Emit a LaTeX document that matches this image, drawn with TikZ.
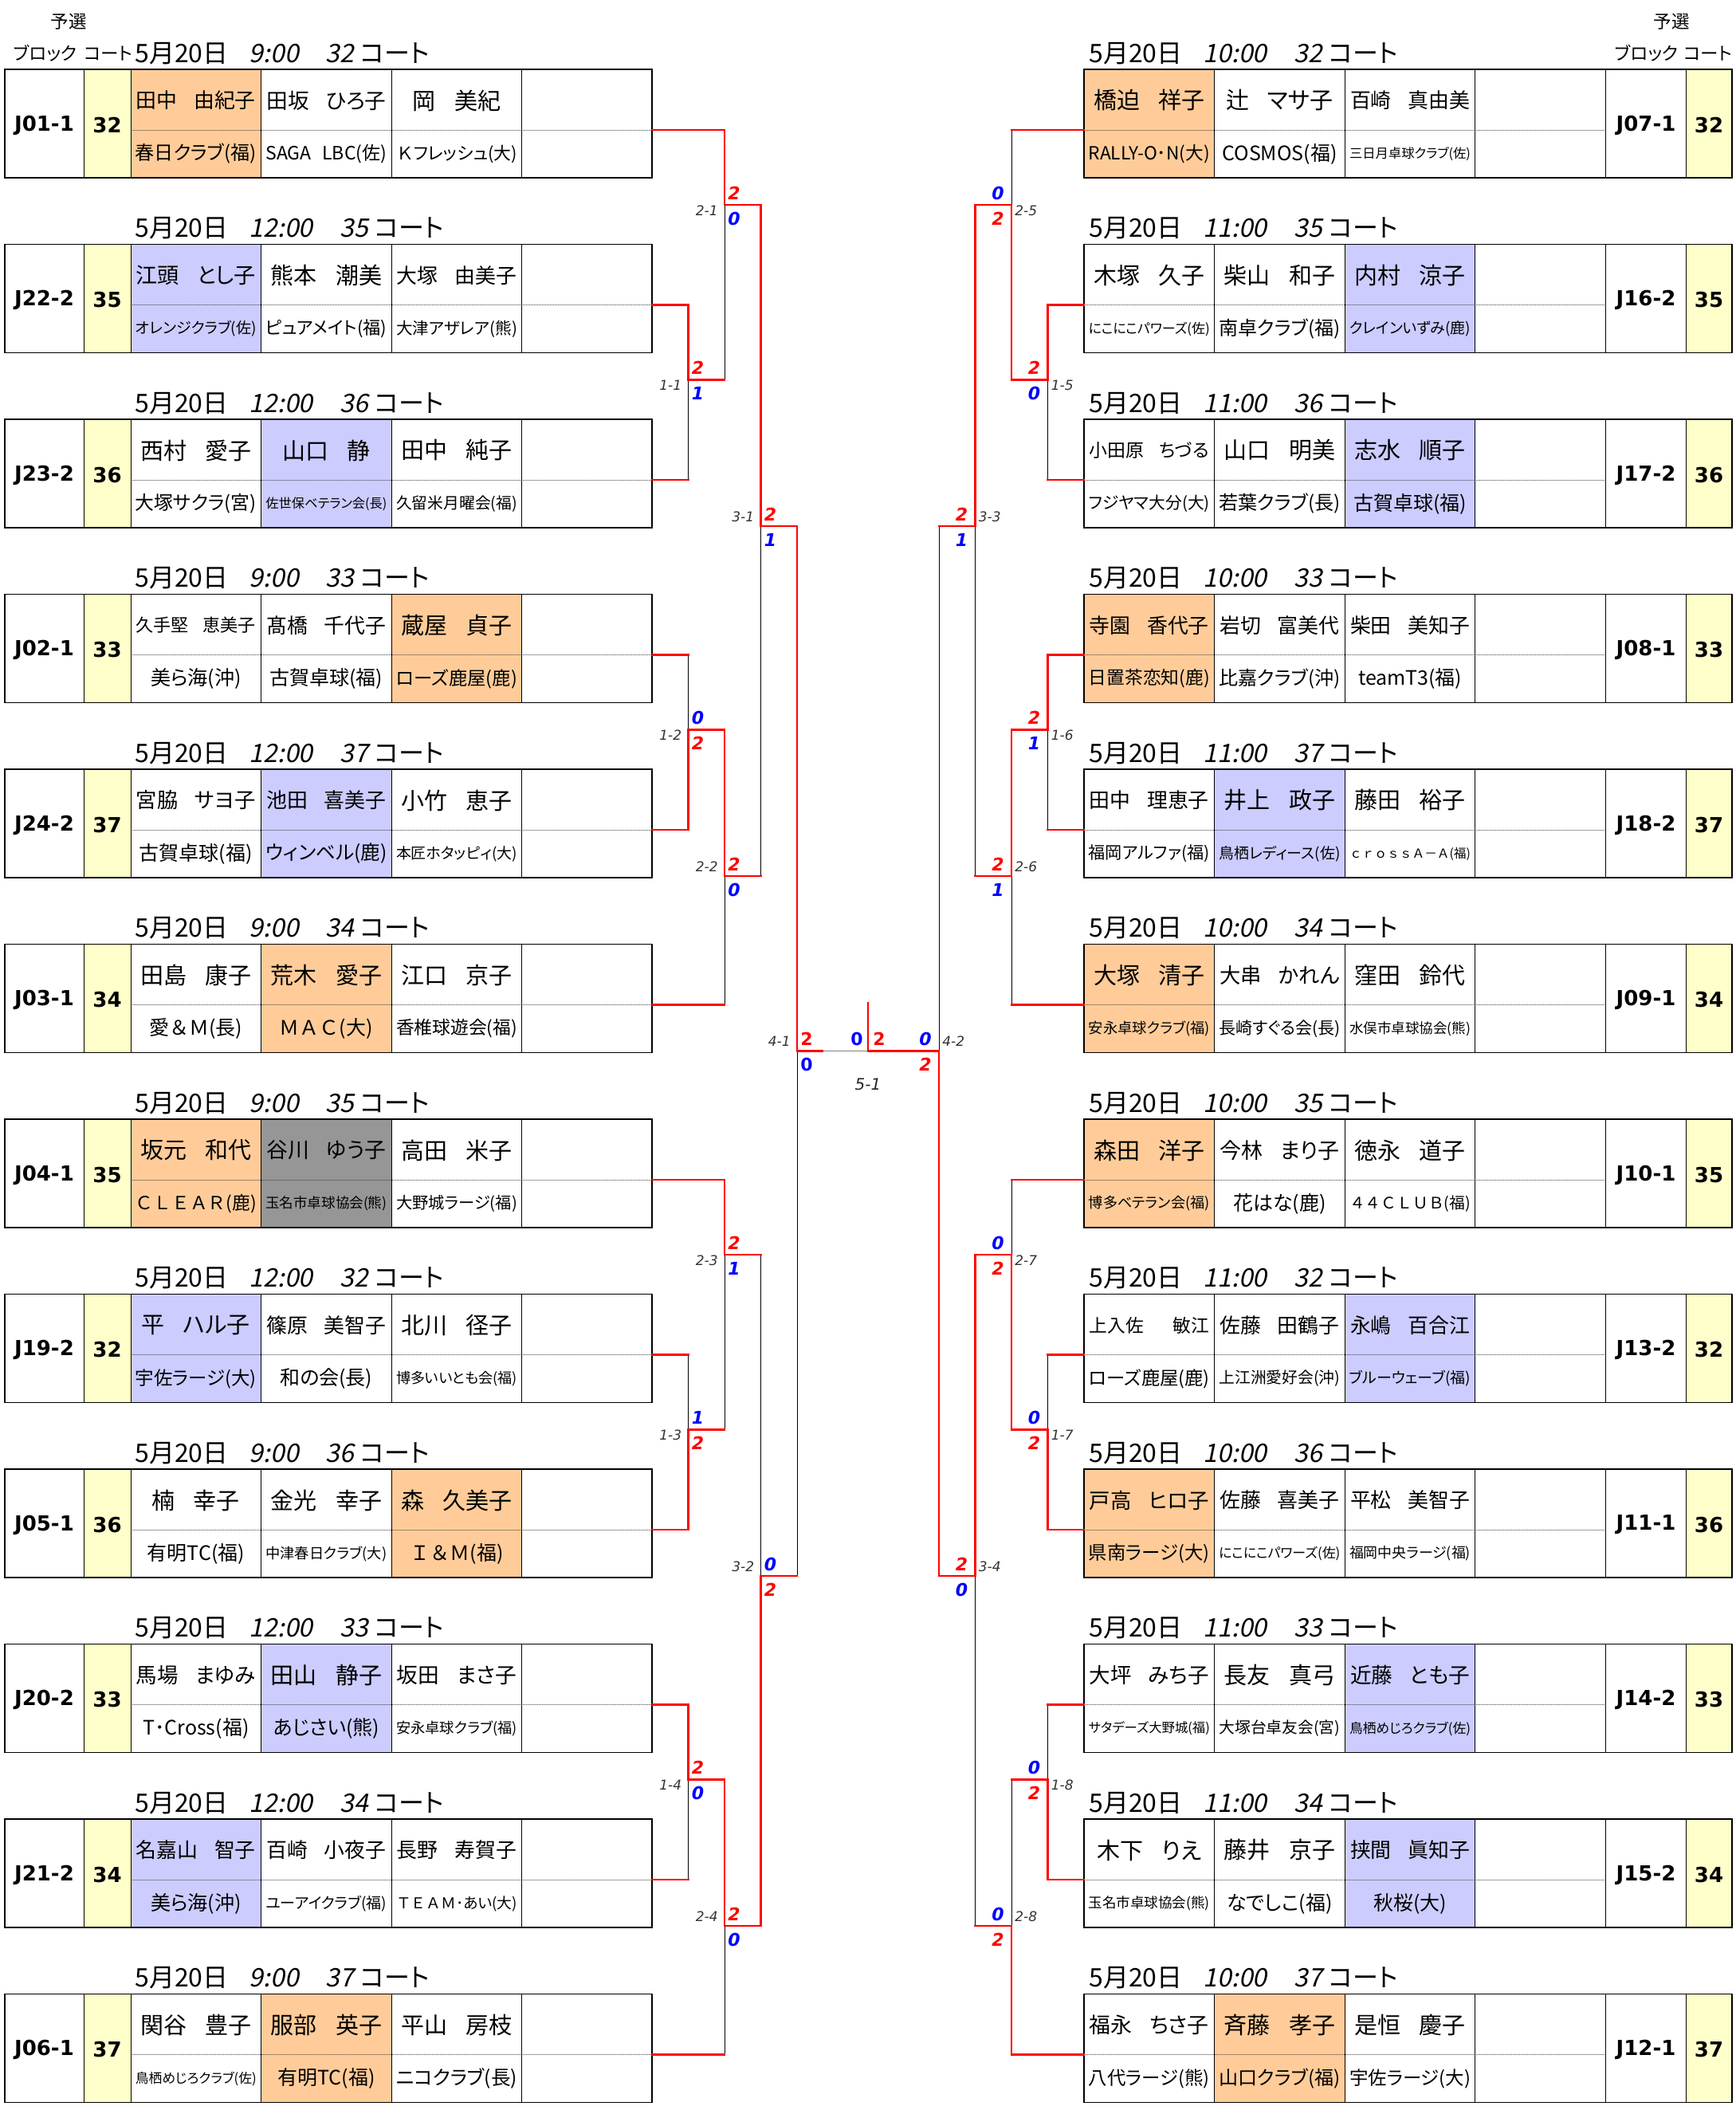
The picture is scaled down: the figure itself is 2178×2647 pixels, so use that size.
\documentclass[tikz,border=0pt]{standalone}
\usepackage{fontspec}
\usepackage{graphicx}
\setmainfont{Noto Sans CJK JP}[RawFeature=+palt]
\newfontfamily\jpw{Noto Sans CJK JP}
\newfontfamily\jpit{Noto Sans CJK JP}[FakeSlant=0.2,RawFeature=+palt]
\newfontfamily\dv{DejaVu Sans}[BoldFont={DejaVu Sans Bold},ItalicFont={DejaVu Sans Oblique},BoldItalicFont={DejaVu Sans Bold Oblique}]
\definecolor{orng}{HTML}{FFCC99}
\definecolor{lav}{HTML}{CCCCFF}
\definecolor{gry}{HTML}{969696}
\definecolor{yel}{HTML}{FFFFCC}
\newsavebox\fitbox
\newcommand\fitw[2]{\sbox\fitbox{#2}\ifdim\wd\fitbox>#1\relax\resizebox{#1}{!}{\usebox\fitbox}\else\usebox\fitbox\fi}
\newcommand\fitn[1]{\fitw{75pt}{#1}}
\newcommand\fitc[1]{\fitw{76pt}{#1}}
\newcommand\zs{\hspace{0.8em}}
\newcommand\scr[1]{\textcolor{red}{#1}}
\newcommand\scb[1]{\textcolor{blue}{#1}}
\newcommand\sideL{\def\pSD{L}\def\pBL{6}\def\pBR{818}\def\pNS{164}\def\pBS{6}\def\pCS{105}\def\pCE{164}\def\pTX{169}\def\pCX{818}}
\newcommand\sideR{\def\pSD{R}\def\pBL{1360}\def\pBR{2173}\def\pNS{1360}\def\pBS{2015}\def\pCS{2115}\def\pCE{2173}\def\pTX{1366}\def\pCX{1360}}
\def\pW{163.6}
\tikzset{
  nm/.style={inner sep=0pt,font=\fontsize{14.5}{17}\selectfont},
  cl/.style={inner sep=0pt,font=\fontsize{12.5}{15}\selectfont},
  blk/.style={inner sep=0pt,font=\dv\bfseries\fontsize{13}{15}\selectfont},
  ttl/.style={inner sep=0pt,font=\fontsize{16}{19}\selectfont},
  hdr/.style={inner sep=0pt,font=\fontsize{11.25}{13}\selectfont},
  sc/.style={inner sep=0pt,font=\dv\bfseries\itshape\fontsize{11}{13}\selectfont},
  scu/.style={inner sep=0pt,font=\dv\bfseries\fontsize{11}{13}\selectfont},
  lb/.style={inner sep=0pt,font=\dv\itshape\fontsize{8.5}{10}\selectfont,text=black!80},
  lbf/.style={inner sep=0pt,font=\dv\itshape\fontsize{10}{12}\selectfont,text=black!85},
  win/.style={draw=red,line width=1.35pt,line cap=rect,line join=miter},
  ln/.style={draw=black,line width=0.5pt},
  gln/.style={draw=gray,line width=0.65pt},
  frame/.style={draw=black,line width=0.7pt},
  cell/.style={draw=black,line width=0.5pt},
  dotln/.style={draw=black!75,line width=0.5pt,dash pattern=on 0.5pt off 0.5pt}
}
\newcommand\myBox[7]{%
  \pgfmathsetmacro\yT{87+219.5*#1}%
  \pgfmathsetmacro\yB{\yT+136}%
  \pgfmathsetmacro\yD{\yT+76}%
  \fill[yel] (\pCS,\yT) rectangle (\pCE,\yB);
  \fill[#5] (\pNS,\yT) rectangle ({\pNS+\pW},\yB);
  \fill[#6] ({\pNS+\pW},\yT) rectangle ({\pNS+2*\pW},\yB);
  \fill[#7] ({\pNS+2*\pW},\yT) rectangle ({\pNS+3*\pW},\yB);
  \draw[dotln] (\pNS,\yD) -- ({\pNS+4*\pW},\yD);
  \foreach \k in {1,2,3,4} {\draw[cell] ({\pNS+\k*\pW},\yT) -- ({\pNS+\k*\pW},\yB);}
  \draw[cell] (\pCS,\yT) -- (\pCS,\yB) (\pCE,\yT) -- (\pCE,\yB) (\pNS,\yT) -- (\pNS,\yB);
  \draw[frame] (\pBL,\yT) rectangle (\pBR,\yB);
  \node[blk] (blk\pSD#1) at ({(\pBS+\pCS)/2},{\yT+70}) {#2};
  \node[blk] (crt\pSD#1) at ({(\pCS+\pCE)/2},{\yT+70}) {#3};
  \node[ttl,anchor=base west] (ttl\pSD#1) at (\pTX,{\yT-9}) {5月20日\hspace{13pt}{\jpit #4}\hspace{17pt}{\jpit #3}\hspace{4pt}コート};
  \coordinate (b\pSD#1) at (\pCX,\yD);
}
\newcommand\myTxt[7]{%
  \pgfmathsetmacro\yT{87+219.5*#1}%
  \node[nm] (nm\pSD#1a) at ({\pNS+0.5*\pW},{\yT+39}) {\fitn{#2}};
  \node[nm] (nm\pSD#1b) at ({\pNS+1.5*\pW},{\yT+39}) {\fitn{#3}};
  \node[nm] (nm\pSD#1c) at ({\pNS+2.5*\pW},{\yT+39}) {\fitn{#4}};
  \node[cl] (cl\pSD#1a) at ({\pNS+0.5*\pW},{\yT+106}) {\fitc{#5}};
  \node[cl] (cl\pSD#1b) at ({\pNS+1.5*\pW},{\yT+106}) {\fitc{#6}};
  \node[cl] (cl\pSD#1c) at ({\pNS+2.5*\pW},{\yT+106}) {\fitc{#7}};
}
\newcommand\myMatch[4]{%
  \draw[ln] (#2 -| #1) -- (#3 -| #1);
  \draw[win] (#2) -- (#2 -| #1);
  \draw[win] (#3) -- (#3 -| #1);
  \if#4t\draw[win] (#2 -| #1) -- (#1);\else\draw[win] (#3 -| #1) -- (#1);\fi
}
\newcommand\scL[6]{%
  \node[#6,anchor=west] (#1u) at ([xshift=2pt,yshift=7.5pt]#1) {#4};
  \node[#6,anchor=west] (#1d) at ([xshift=2pt,yshift=-8.5pt]#1) {#5};
  \node[lb,anchor=east] (#1l) at ([xshift=-4pt,yshift=#3]#1) {#2};
}
\newcommand\scR[6]{%
  \node[#6,anchor=east] (#1u) at ([xshift=-4.5pt,yshift=7.5pt]#1) {#4};
  \node[#6,anchor=east] (#1d) at ([xshift=-4.5pt,yshift=-8.5pt]#1) {#5};
  \node[lb,anchor=west] (#1l) at ([xshift=2pt,yshift=#3]#1) {#2};
}
\begin{document}
\begin{tikzpicture}[x=0.5pt,y=-0.5pt]
\fill[white] (0,0) rectangle (2178,2647);
\useasboundingbox (0,0) rectangle (2178,2647);
% headers
\node[hdr] (hyL) at (86,27) {予選};
\node[hdr] (hbL) at (57,67) {ブロック};
\node[hdr] (hcL) at (136,67) {コート};
\node[hdr] (hyR) at (2097,27) {予選};
\node[hdr] (hbR) at (2066,67) {ブロック};
\node[hdr] (hcR) at (2143,67) {コート};
% left boxes
\sideL
\myBox{0}{J01-1}{32}{9:00}{orng}{white}{white}
\myBox{1}{J22-2}{35}{12:00}{lav}{white}{white}
\myBox{2}{J23-2}{36}{12:00}{white}{lav}{white}
\myBox{3}{J02-1}{33}{9:00}{white}{white}{orng}
\myBox{4}{J24-2}{37}{12:00}{white}{lav}{white}
\myBox{5}{J03-1}{34}{9:00}{white}{orng}{white}
\myBox{6}{J04-1}{35}{9:00}{orng}{gry}{white}
\myBox{7}{J19-2}{32}{12:00}{lav}{white}{white}
\myBox{8}{J05-1}{36}{9:00}{white}{white}{orng}
\myBox{9}{J20-2}{33}{12:00}{white}{lav}{white}
\myBox{10}{J21-2}{34}{12:00}{lav}{white}{white}
\myBox{11}{J06-1}{37}{9:00}{white}{orng}{white}
\myTxt{0}{田中\zs 由紀子}{田坂\zs ひろ子}{岡\zs 美紀}{春日クラブ(福)}{SAGA\hspace{0.6em}LBC(佐)}{{\jpw Ｋ}フレッシュ(大)}
\myTxt{1}{江頭\zs とし子}{熊本\zs 潮美}{大塚\zs 由美子}{オレンジクラブ(佐)}{ピュアメイト(福)}{大津アザレア(熊)}
\myTxt{2}{西村\zs 愛子}{山口\zs 静}{田中\zs 純子}{大塚サクラ(宮)}{佐世保ベテラン会(長)}{久留米月曜会(福)}
\myTxt{3}{久手堅\zs 恵美子}{髙橋\zs 千代子}{蔵屋\zs 貞子}{美ら海(沖)}{古賀卓球(福)}{ローズ鹿屋(鹿)}
\myTxt{4}{宮脇\zs サヨ子}{池田\zs 喜美子}{小竹\zs 恵子}{古賀卓球(福)}{ウィンベル(鹿)}{本匠ホタッピィ(大)}
\myTxt{5}{田島\zs 康子}{荒木\zs 愛子}{江口\zs 京子}{愛{\jpw ＆Ｍ}(長)}{{\jpw ＭＡＣ}(大)}{香椎球遊会(福)}
\myTxt{6}{坂元\zs 和代}{谷川\zs ゆう子}{高田\zs 米子}{{\jpw ＣＬＥＡＲ}(鹿)}{玉名市卓球協会(熊)}{大野城ラージ(福)}
\myTxt{7}{平\zs ハル子}{篠原\zs 美智子}{北川\zs 径子}{宇佐ラージ(大)}{和の会(長)}{博多いいとも会(福)}
\myTxt{8}{楠\zs 幸子}{金光\zs 幸子}{森\zs 久美子}{有明TC(福)}{中津春日クラブ(大)}{{\jpw Ｉ＆Ｍ}(福)}
\myTxt{9}{馬場\zs まゆみ}{田山\zs 静子}{坂田\zs まさ子}{T･Cross(福)}{あじさい(熊)}{安永卓球クラブ(福)}
\myTxt{10}{名嘉山\zs 智子}{百崎\zs 小夜子}{長野\zs 寿賀子}{美ら海(沖)}{ユーアイクラブ(福)}{{\jpw ＴＥＡＭ}･あい(大)}
\myTxt{11}{関谷\zs 豊子}{服部\zs 英子}{平山\zs 房枝}{鳥栖めじろクラブ(佐)}{有明TC(福)}{ニコクラブ(長)}
% right boxes
\sideR
\myBox{0}{J07-1}{32}{10:00}{orng}{white}{white}
\myBox{1}{J16-2}{35}{11:00}{white}{white}{lav}
\myBox{2}{J17-2}{36}{11:00}{white}{white}{lav}
\myBox{3}{J08-1}{33}{10:00}{orng}{white}{white}
\myBox{4}{J18-2}{37}{11:00}{white}{lav}{white}
\myBox{5}{J09-1}{34}{10:00}{orng}{white}{white}
\myBox{6}{J10-1}{35}{10:00}{orng}{white}{white}
\myBox{7}{J13-2}{32}{11:00}{white}{white}{lav}
\myBox{8}{J11-1}{36}{10:00}{orng}{white}{white}
\myBox{9}{J14-2}{33}{11:00}{white}{white}{lav}
\myBox{10}{J15-2}{34}{11:00}{white}{white}{lav}
\myBox{11}{J12-1}{37}{10:00}{white}{orng}{white}
\myTxt{0}{橋迫\zs 祥子}{辻\zs マサ子}{百崎\zs 真由美}{RALLY-O･N(大)}{COSMOS(福)}{三日月卓球クラブ(佐)}
\myTxt{1}{木塚\zs 久子}{柴山\zs 和子}{内村\zs 涼子}{にこにこパワーズ(佐)}{南卓クラブ(福)}{クレインいずみ(鹿)}
\myTxt{2}{小田原\zs ちづる}{山口\zs 明美}{志水\zs 順子}{フジヤマ大分(大)}{若葉クラブ(長)}{古賀卓球(福)}
\myTxt{3}{寺園\zs 香代子}{岩切\zs 富美代}{柴田\zs 美知子}{日置茶恋知(鹿)}{比嘉クラブ(沖)}{teamT3(福)}
\myTxt{4}{田中\zs 理恵子}{井上\zs 政子}{藤田\zs 裕子}{福岡アルファ(福)}{鳥栖レディース(佐)}{{\jpw ｃｒｏｓｓＡ－Ａ}(福)}
\myTxt{5}{大塚\zs 清子}{大串\zs かれん}{窪田\zs 鈴代}{安永卓球クラブ(福)}{長崎すぐる会(長)}{水俣市卓球協会(熊)}
\myTxt{6}{森田\zs 洋子}{今林\zs まり子}{徳永\zs 道子}{博多ベテラン会(福)}{花はな(鹿)}{{\jpw ４４ＣＬＵＢ}(福)}
\myTxt{7}{上入佐\zs\zs 敏江}{佐藤\zs 田鶴子}{永嶋\zs 百合江}{ローズ鹿屋(鹿)}{上江洲愛好会(沖)}{ブルーウェーブ(福)}
\myTxt{8}{戸高\zs ヒロ子}{佐藤\zs 喜美子}{平松\zs 美智子}{県南ラージ(大)}{にこにこパワーズ(佐)}{福岡中央ラージ(福)}
\myTxt{9}{大坪\zs みち子}{長友\zs 真弓}{近藤\zs とも子}{サタデーズ大野城(福)}{大塚台卓友会(宮)}{鳥栖めじろクラブ(佐)}
\myTxt{10}{木下\zs りえ}{藤井\zs 京子}{挟間\zs 眞知子}{玉名市卓球協会(熊)}{なでしこ(福)}{秋桜(大)}
\myTxt{11}{福永\zs ちさ子}{斉藤\zs 孝子}{是恒\zs 慶子}{八代ラージ(熊)}{山口クラブ(福)}{宇佐ラージ(大)}
% match junctions
\coordinate (m11) at (863.5,476.5);
\coordinate (m21) at (909,257);
\coordinate (m12) at (863.5,915.5);
\coordinate (m22) at (909,1099);
\coordinate (m31) at (954.5,660);
\coordinate (m13) at (863.5,1793.5);
\coordinate (m23) at (909,1574);
\coordinate (m14) at (863.5,2232.5);
\coordinate (m24) at (909,2416);
\coordinate (m32) at (954.5,1977);
\coordinate (m41) at (1000,1318.5);
\coordinate (m15) at (1314.5,476.5);
\coordinate (m25) at (1269,257);
\coordinate (m16) at (1314.5,915.5);
\coordinate (m26) at (1269,1099);
\coordinate (m33) at (1223.5,660);
\coordinate (m17) at (1314.5,1793.5);
\coordinate (m27) at (1269,1574);
\coordinate (m18) at (1314.5,2232.5);
\coordinate (m28) at (1269,2416);
\coordinate (m34) at (1223.5,1977);
\coordinate (m42) at (1178,1318.5);
\coordinate (m51) at (1089,1318.5);
\coordinate (champ) at (1089,1258);
\coordinate (fst) at (1032,1318.5);
% bracket lines
\myMatch{m11}{bL1}{bL2}{t}
\myMatch{m21}{bL0}{m11}{t}
\myMatch{m12}{bL3}{bL4}{b}
\myMatch{m22}{m12}{bL5}{t}
\myMatch{m31}{m21}{m22}{t}
\myMatch{m13}{bL7}{bL8}{b}
\myMatch{m23}{bL6}{m13}{t}
\myMatch{m14}{bL9}{bL10}{t}
\myMatch{m24}{m14}{bL11}{t}
\myMatch{m32}{m23}{m24}{b}
\myMatch{m41}{m31}{m32}{t}
\myMatch{m15}{bR1}{bR2}{t}
\myMatch{m25}{bR0}{m15}{b}
\myMatch{m16}{bR3}{bR4}{t}
\myMatch{m26}{m16}{bR5}{t}
\myMatch{m33}{m25}{m26}{t}
\myMatch{m17}{bR7}{bR8}{b}
\myMatch{m27}{bR6}{m17}{b}
\myMatch{m18}{bR9}{bR10}{b}
\myMatch{m28}{m18}{bR11}{b}
\myMatch{m34}{m27}{m28}{t}
\myMatch{m42}{m33}{m34}{b}
\draw[gln] (fst) -- (m51);
\draw[win] (m41) -- (fst);
\draw[win] (m42) -- (m51);
\draw[win] (m51) -- (champ);
% scores and match labels
\scL{m21}{2-1}{-3.5pt}{\scr{2}}{\scb{0}}{sc}
\scL{m11}{1-1}{-3.5pt}{\scr{2}}{\scb{1}}{sc}
\scL{m31}{3-1}{6pt}{\scr{2}}{\scb{1}}{sc}
\scL{m12}{1-2}{-3.5pt}{\scb{0}}{\scr{2}}{sc}
\scL{m22}{2-2}{6pt}{\scr{2}}{\scb{0}}{sc}
\scL{m41}{4-1}{6pt}{\scr{2}}{\scb{0}}{scu}
\scL{m23}{2-3}{-3.5pt}{\scr{2}}{\scb{1}}{sc}
\scL{m13}{1-3}{-3.5pt}{\scb{1}}{\scr{2}}{sc}
\scL{m32}{3-2}{6pt}{\scb{0}}{\scr{2}}{sc}
\scL{m14}{1-4}{-3.5pt}{\scr{2}}{\scb{0}}{sc}
\scL{m24}{2-4}{6pt}{\scr{2}}{\scb{0}}{sc}
\scR{m25}{2-5}{-3.5pt}{\scb{0}}{\scr{2}}{sc}
\scR{m15}{1-5}{-3.5pt}{\scr{2}}{\scb{0}}{sc}
\scR{m33}{3-3}{6pt}{\scr{2}}{\scb{1}}{sc}
\scR{m16}{1-6}{-3.5pt}{\scr{2}}{\scb{1}}{sc}
\scR{m26}{2-6}{6pt}{\scr{2}}{\scb{1}}{sc}
\scR{m42}{4-2}{6pt}{\scb{0}}{\scr{2}}{sc}
\scR{m27}{2-7}{-3.5pt}{\scb{0}}{\scr{2}}{sc}
\scR{m17}{1-7}{-3.5pt}{\scb{0}}{\scr{2}}{sc}
\scR{m34}{3-4}{6pt}{\scr{2}}{\scb{0}}{sc}
\scR{m18}{1-8}{-3.5pt}{\scb{0}}{\scr{2}}{sc}
\scR{m28}{2-8}{6pt}{\scb{0}}{\scr{2}}{sc}
\node[scu,anchor=east] (m51a) at ([xshift=-3pt,yshift=7.5pt]m51) {\scb{0}};
\node[scu,anchor=west] (m51b) at ([xshift=3pt,yshift=7.5pt]m51) {\scr{2}};
\node[lbf] (m51t) at ([yshift=-20.75pt]m51) {5-1};
\end{tikzpicture}
\end{document}
